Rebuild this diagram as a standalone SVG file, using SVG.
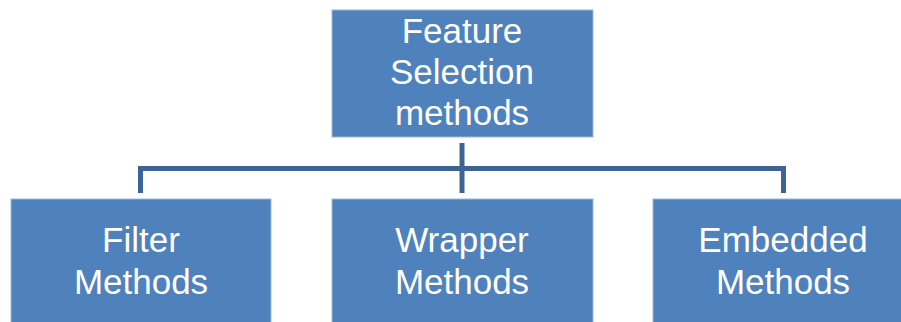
<svg xmlns="http://www.w3.org/2000/svg" width="901" height="322" viewBox="0 0 901 322">
<style>
.box{fill:#4F81BD;stroke:#9DB7D8;stroke-width:1}
.lbl{fill:#FFFFFF;font-family:"Liberation Sans",Arial,sans-serif;font-size:35px;text-anchor:middle}
.con{fill:none;stroke:#3C6496;stroke-width:5;stroke-linejoin:miter}
</style>
<rect width="901" height="322" fill="#FFFFFF"/>
<g id="connectors">
<path class="con" d="M462,143 V193"/>
<path class="con" d="M140.5,193 V168.5 H783.5 V193"/>
</g>
<g id="root">
<rect class="box" x="332" y="10" width="261" height="127"/>
<text class="lbl" x="462" y="43">Feature</text>
<text class="lbl" x="462" y="84">Selection</text>
<text class="lbl" x="462" y="125">methods</text>
</g>
<g id="filter">
<rect class="box" x="11" y="199" width="260" height="130"/>
<text class="lbl" x="141" y="252">Filter</text>
<text class="lbl" x="141" y="294">Methods</text>
</g>
<g id="wrapper">
<rect class="box" x="332" y="199" width="261" height="130"/>
<text class="lbl" x="462" y="252">Wrapper</text>
<text class="lbl" x="462" y="294">Methods</text>
</g>
<g id="embedded">
<rect class="box" x="653" y="199" width="261" height="130"/>
<text class="lbl" x="783" y="252">Embedded</text>
<text class="lbl" x="783" y="294">Methods</text>
</g>
</svg>
